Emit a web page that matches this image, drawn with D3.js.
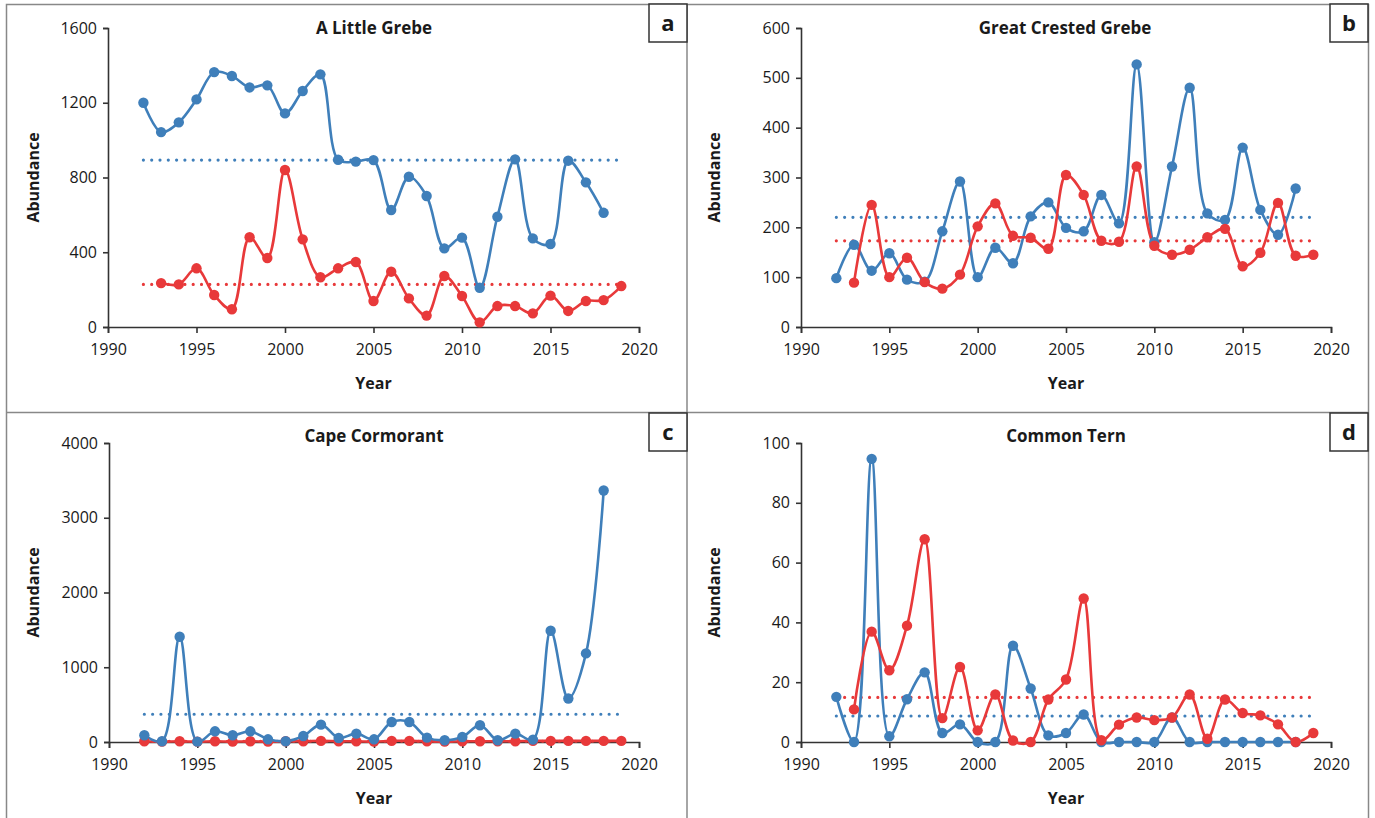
<!DOCTYPE html>
<html><head><meta charset="utf-8">
<script src="https://cdn.jsdelivr.net/npm/d3@7"></script>
<style>body{margin:0;background:#fff;}svg{display:block;font-family:"Open Sans",sans-serif;}</style>
</head><body><svg id="c" width="1375" height="818"></svg>
<script>
const yearsBlue = d3.range(1992, 2019);
const yearsRed = d3.range(1993, 2020);
const yearsRedC = d3.range(1992, 2020);
const xTicks = [1990, 1995, 2000, 2005, 2010, 2015, 2020];

const titles = ["A Little Grebe", "Great Crested Grebe", "Cape Cormorant", "Common Tern"];
const letters = ["a", "b", "c", "d"];
const yTicksA = [0, 400, 800, 1200, 1600];
const yTicksB = [0, 100, 200, 300, 400, 500, 600];
const yTicksC = [0, 1000, 2000, 3000, 4000];
const yTicksD = [0, 20, 40, 60, 80, 100];

const blueA = [1200,1043,1095,1218,1364,1343,1282,1293,1143,1263,1352,895,885,893,626,804,701,421,478,210,590,897,474,444,890,774,611];
const redA = [235,228,314,171,95,480,369,840,469,266,314,348,139,296,153,61,273,166,25,112,112,73,168,86,139,144,219];
const meanA = [893, 228];

const blueB = [98,165,113,148,95,91,192,292,100,159,128,222,250,199,192,265,208,527,170,322,480,228,215,360,235,185,278];
const redB = [89,245,100,139,90,77,105,202,248,183,179,157,305,265,173,171,322,163,145,155,180,197,122,149,249,143,145];
const meanB = [220, 173];

const blueC = [90,10,1408,5,143,90,143,36,10,80,233,54,112,36,268,268,58,23,67,224,23,112,32,1488,582,1185,3364];
const redC = [10,5,10,5,10,5,10,5,10,10,15,10,10,5,15,15,10,5,10,10,10,10,15,15,15,15,15,15];
const meanC = [371, 10];

const blueD = [15.1,0,94.7,1.9,14.3,23.3,3,5.9,0,0,32.2,17.9,2.2,3,9.2,0,0,0,0,8.2,0,0,0,0,0,0,0];
const redD = [10.9,36.9,24,38.9,67.8,8,25.1,3.9,15.9,0.5,0,14.2,20.9,48,0.6,5.8,8.2,7.3,8.2,15.9,1.1,14.2,9.7,8.9,5.9,0,3];
const meanD = [8.7, 14.9];

const BLUE = "#3f7fba", RED = "#e8393a";
const svg = d3.select("#c");

const panels = [
  {x0:108, x1:639, yb:327, yt:28, ticks:yTicksA, blue:blueA, red:redA, ry:yearsRed, mean:meanA, tx:374, ty:28, box:[649,4], ylabX:33, yearY:383},
  {x0:801, x1:1331, yb:327, yt:28, ticks:yTicksB, blue:blueB, red:redB, ry:yearsRed, mean:meanB, tx:1065, ty:28, box:[1330,4], ylabX:714, yearY:383},
  {x0:109, x1:639, yb:742, yt:443, ticks:yTicksC, blue:blueC, red:redC, ry:yearsRedC, mean:meanC, tx:374, ty:436, box:[649,413], ylabX:33, yearY:798},
  {x0:801, x1:1331, yb:742, yt:443, ticks:yTicksD, blue:blueD, red:redD, ry:yearsRed, mean:meanD, tx:1066, ty:436, box:[1330,413], ylabX:714, yearY:798}
];

// frame
svg.append("rect").attr("x",6.5).attr("y",4.5).attr("width",1362).attr("height",830).attr("fill","none").attr("stroke","#888").attr("stroke-width",1.5);
svg.append("line").attr("x1",687).attr("x2",687).attr("y1",4).attr("y2",818).attr("stroke","#888").attr("stroke-width",1.5);
svg.append("line").attr("x1",6).attr("x2",1368).attr("y1",412.5).attr("y2",412.5).attr("stroke","#888").attr("stroke-width",1.5);

panels.forEach((p, i) => {
  const x = d3.scaleLinear().domain([1990, 2020]).range([p.x0, p.x1]);
  const y = d3.scaleLinear().domain([0, d3.max(p.ticks)]).range([p.yb, p.yt]);
  const g = svg.append("g");

  const ya = g.append("g").attr("transform", `translate(${p.x0},0)`)
    .call(d3.axisLeft(y).tickValues(p.ticks).tickSize(5).tickPadding(6).tickFormat(d3.format("d")));
  const xa = g.append("g").attr("transform", `translate(0,${p.yb})`)
    .call(d3.axisBottom(x).tickValues(xTicks).tickSize(6).tickPadding(11).tickFormat(d3.format("d")));
  [ya, xa].forEach(a => {
    a.selectAll("path,line").attr("stroke", "#333").attr("stroke-width", 1.6);
    a.selectAll("text").attr("fill", "#1a1a1a").style("font-size", "16px").style("font-family", "'Open Sans',sans-serif");
  });

  // mean lines
  const yrs = [1992, 2019];
  [[p.mean[0], BLUE], [p.mean[1], RED]].forEach(([m, c]) => {
    g.append("line").attr("x1", x(yrs[0])).attr("x2", x(yrs[1])).attr("y1", y(m)).attr("y2", y(m))
      .attr("stroke", c).attr("stroke-width", 3.2).attr("stroke-linecap", "round").attr("stroke-dasharray", "0,8.3");
  });

  const line = d3.line().curve(d3.curveCatmullRom.alpha(0.5)).x(d => x(d[0])).y(d => y(d[1]));
  const series = [
    {data: p.red.map((v, k) => [p.ry[k], v]), c: RED},
    {data: p.blue.map((v, k) => [yearsBlue[k], v]), c: BLUE}
  ];
  if (i === 1 || i === 3) series.reverse();
  series.forEach(s => {
    g.append("path").datum(s.data).attr("d", line).attr("fill", "none").attr("stroke", s.c).attr("stroke-width", 2.6);
  });
  series.forEach(s => {
    g.selectAll(null).data(s.data).enter().append("circle")
      .attr("cx", d => x(d[0])).attr("cy", d => y(d[1])).attr("r", 5.2).attr("fill", s.c);
  });

  // titles
  g.append("text").attr("x", p.tx).attr("y", p.ty).attr("dy", "0.35em").attr("text-anchor", "middle")
    .style("font-size", "17px").style("font-weight", "bold").attr("fill", "#1a1a1a").text(titles[i]);
  g.append("text").attr("x", (p.x0 + p.x1) / 2).attr("y", p.yearY).attr("dy", "0.35em").attr("text-anchor", "middle")
    .style("font-size", "16px").style("font-weight", "bold").attr("fill", "#1a1a1a").text("Year");
  g.append("text").attr("transform", `translate(${p.ylabX},${(p.yb + p.yt) / 2}) rotate(-90)`).attr("dy", "0.35em")
    .attr("text-anchor", "middle").style("font-size", "16px").style("font-weight", "bold").attr("fill", "#1a1a1a").text("Abundance");

  // letter box
  g.append("rect").attr("x", p.box[0]).attr("y", p.box[1]).attr("width", 38).attr("height", 38)
    .attr("fill", "#fff").attr("stroke", "#333").attr("stroke-width", 1.5);
  g.append("text").attr("x", p.box[0] + 19).attr("y", p.box[1] + 19).attr("dy", "0.35em").attr("text-anchor", "middle")
    .style("font-size", "22px").style("font-weight", "bold").attr("fill", "#1a1a1a").text(letters[i]);
});
</script></body></html>
